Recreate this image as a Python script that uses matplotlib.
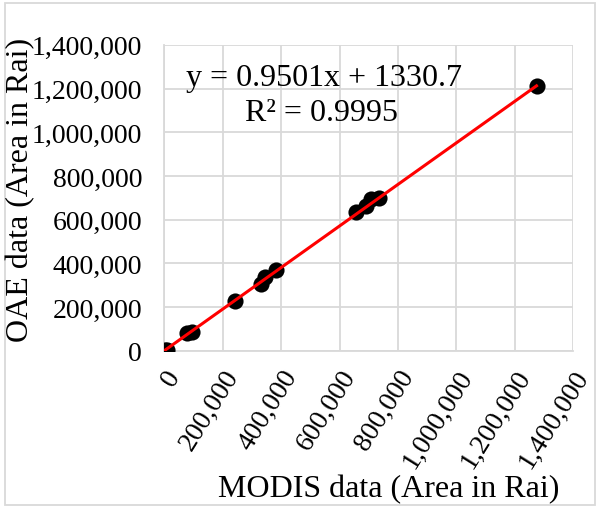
import matplotlib
matplotlib.use("Agg")
import matplotlib.pyplot as plt
import numpy as np
from matplotlib.ticker import FuncFormatter, MultipleLocator

plt.rcParams['font.family'] = ['Liberation Serif', 'DejaVu Serif']

modis = [3000, 8000, 78000, 95000, 242000, 332000, 343000, 383000, 657000, 692000, 709000, 737000, 1275000]
oae = [2000, 6000, 80000, 88000, 230000, 307000, 340000, 372000, 635000, 663000, 696000, 698000, 1214000]
slope = 0.9501
intercept = 1330.7
r2_text = "R² = 0.9995"
eq_text = "y = 0.9501x + 1330.7"
xlabel = "MODIS data (Area in Rai)"
ylabel = "OAE data (Area in Rai)"

fig = plt.figure(figsize=(6, 5.1), dpi=100)
ax = fig.add_axes([0.274, 0.31, 0.681, 0.6])

ax.scatter(modis, oae, s=135, color='black', zorder=3, linewidths=0)
xs = np.array([min(modis), max(modis)])
ax.plot(xs, slope * xs + intercept, color='#ff0000', lw=2.2, zorder=4)

ax.set_xlim(0, 1400000)
ax.set_ylim(0, 1400000)
ax.xaxis.set_major_locator(MultipleLocator(200000))
ax.yaxis.set_major_locator(MultipleLocator(200000))
fmt = FuncFormatter(lambda v, p: f"{int(v):,}")
ax.xaxis.set_major_formatter(fmt)
ax.yaxis.set_major_formatter(fmt)
ax.grid(True, color='#d9d9d9', lw=1.3, zorder=0)
ax.set_axisbelow(True)
for s in ['top', 'right']:
    ax.spines[s].set_visible(False)
for s in ['left', 'bottom']:
    ax.spines[s].set_color('#d9d9d9')
    ax.spines[s].set_linewidth(1.3)
ax.tick_params(length=0, labelsize=20)
ax.tick_params(axis='y', pad=16)
ax.tick_params(axis='x', pad=10)
for lab in ax.get_xticklabels():
    lab.set_rotation(58)
    lab.set_ha('right')
    lab.set_va('top')
    lab.set_rotation_mode('anchor')

ax.text(0.39, 0.895, eq_text, transform=ax.transAxes, fontsize=23, ha='center', va='center')
ax.text(0.385, 0.78, r2_text, transform=ax.transAxes, fontsize=23, ha='center', va='center')

fig.text(0.647, 0.012, xlabel, fontsize=23, ha='center', va='bottom')
fig.text(0.035, 0.627, ylabel, fontsize=23, ha='center', va='center', rotation=90)

border = plt.Rectangle((0.008, 0.008), 0.984, 0.984, transform=fig.transFigure,
                       fill=False, edgecolor='#d9d9d9', lw=1.3)
fig.patches.append(border)

fig.savefig("out.png", dpi=100, facecolor='white')
